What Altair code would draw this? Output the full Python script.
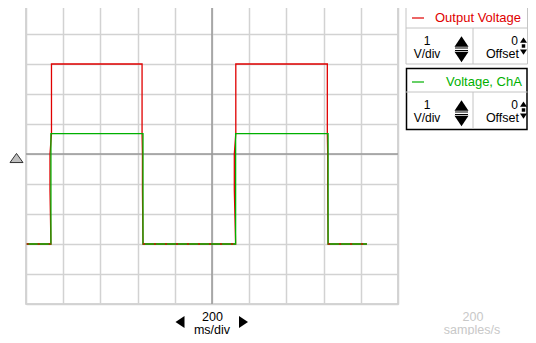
import altair as alt
import pandas as pd

# ---- data (time in ms, voltage in V) ----
green_t = [4, 134, 134, 629, 629, 1127, 1127, 1624, 1624, 1833]
green_v = [-3.0, -3.0, 0.68, 0.68, -3.0, -3.0, 0.68, 0.68, -3.0, -3.0]
red_t = [4, 134, 129, 129, 137, 137, 624, 624, 626, 626, 629,
         1127, 1120, 1120, 1128, 1128, 1620, 1620, 1622, 1622, 1624, 1833]
red_v = [-3.0, -3.0, -1.2, 0.0, 0.68, 3.0, 3.0, 0.68, 0.0, -1.2, -3.0,
         -3.0, -1.2, 0.0, 0.68, 3.0, 3.0, 0.68, 0.0, -1.2, -3.0, -3.0]
# low stretches where the red trace peeks through the green one
low_start = [4, 629, 1624]
low_end = [134, 1127, 1833]
low_v = [-3.0, -3.0, -3.0]
grid_t = [0, 200, 400, 600, 800, 1000, 1200, 1400, 1600, 1800, 2000]
grid_v = [-5, -4, -3, -2, -1, 0, 1, 2, 3, 4, 5]
center_t = [1000]
center_v = [0]

channels = ["Output Voltage", "Voltage, ChA"]
channel_colors = ["#e00000", "#00b000"]
volts_per_div = ["1", "1"]
offsets = ["0", "0"]
timebase = ["200", "ms/div"]
sample_rate = ["200", "samples/s"]

RED, GREEN = channel_colors
OX, OY = 26, 4  # plot origin on the page

green_df = pd.DataFrame({"t": green_t, "v": green_v, "i": range(len(green_t))})
red_df = pd.DataFrame({"t": red_t, "v": red_v, "i": range(len(red_t))})
low_df = pd.DataFrame({"t": low_start, "t2": low_end, "v": low_v})
dummy = pd.DataFrame({"a": [0]})

xscale = alt.Scale(domain=[0, 2000], nice=False, zero=False)
yscale = alt.Scale(domain=[-5, 5], nice=False, zero=False)
grid_kw = dict(grid=True, labels=False, ticks=False, domain=False,
               gridColor="#d2d2d2", gridWidth=1.5, gridOpacity=1)
xaxis = alt.Axis(values=grid_t, **grid_kw)
yaxis = alt.Axis(values=grid_v, **grid_kw)


def X():
    return alt.X("t:Q", scale=xscale, title=None, axis=xaxis)


def Y():
    return alt.Y("v:Q", scale=yscale, title=None, axis=yaxis)


layers = []
layers.append(alt.Chart(pd.DataFrame({"t": center_t})).mark_rule(color="#999999", strokeWidth=1.5)
              .encode(x=X()))
layers.append(alt.Chart(pd.DataFrame({"v": center_v})).mark_rule(color="#999999", strokeWidth=1.5)
              .encode(y=Y()))
layers.append(alt.Chart(red_df).mark_line(color=RED, strokeWidth=1.3)
              .encode(x=X(), y=Y(), order="i:Q"))
layers.append(alt.Chart(green_df).mark_line(color=GREEN, strokeWidth=1.3)
              .encode(x=X(), y=Y(), order="i:Q"))
layers.append(alt.Chart(low_df).mark_rule(color=RED, strokeWidth=1.3, strokeDash=[2, 9], opacity=0.8)
              .encode(x=X(), x2="t2:Q", y=Y()))


def P(px, py):
    return dict(x=alt.value(px - OX), y=alt.value(py - OY))


def text(s, px, py, color="black", align="center", size=13):
    return alt.Chart(dummy).mark_text(text=s, color=color, align=align, baseline="middle",
                                      font="Liberation Sans", fontSize=size).encode(**P(px, py))


def shape(path, px, py, size, color="black"):
    return alt.Chart(dummy).mark_point(shape=path, filled=True, color=color, opacity=1,
                                       size=size, strokeWidth=0).encode(**P(px, py))


def hline(x1, x2, py, color, w=1):
    return alt.Chart(dummy).mark_rule(color=color, strokeWidth=w).encode(
        x=alt.value(x1 - OX), x2=alt.value(x2 - OX), y=alt.value(py - OY))


def vline(px, y1, y2, color, w=1):
    return alt.Chart(dummy).mark_rule(color=color, strokeWidth=w).encode(
        x=alt.value(px - OX), y=alt.value(y1 - OY), y2=alt.value(y2 - OY))


def box(x1, x2, y1, y2, color, w=1):
    return alt.Chart(dummy).mark_rect(fillOpacity=0, stroke=color, strokeWidth=w).encode(
        x=alt.value(x1 - OX), x2=alt.value(x2 - OX), y=alt.value(y1 - OY), y2=alt.value(y2 - OY))


UP = "M-1,0.75L1,0.75L0,-0.75Z"
DOWN = "M-1,-0.75L1,-0.75L0,0.75Z"
LEFT = "M0.75,-1L0.75,1L-0.75,0Z"
RIGHT = "M-0.75,-1L-0.75,1L0.75,0Z"
SQUARE = "M-1,-1L1,-1L1,1L-1,1Z"

# zero-level marker
layers.append(alt.Chart(dummy).mark_point(shape="M-1,0.7L1,0.7L0,-0.7Z", filled=True, fill="#c0c0c0",
                                           stroke="#333333", strokeWidth=1, opacity=1, size=169)
              .encode(**P(16.5, 158)))

# channel panels
for k, (name, col, vdiv, off) in enumerate(zip(channels, channel_colors, volts_per_div, offsets)):
    dy = 64 * k
    if k == 0:
        layers.append(box(406, 527.5, 4, 64, "#c4c4c4"))
    else:
        layers.append(box(406.5, 527, 68.5, 129.5, "black", 1.5))
    layers.append(hline(406, 527.5, 28 + dy, "#c4c4c4"))
    layers.append(vline(473, 28 + dy, 64 + dy if k == 0 else 129, "#c4c4c4"))
    layers.append(hline(412, 424, 18 + dy, col, 1.2))
    layers.append(text(name, 435 if k == 0 else 446, 18 + dy, col, "left"))
    layers.append(text(vdiv, 427, 40.5 + dy, size=12))
    layers.append(text("V/div", 427, 53.5 + dy, size=12))
    layers.append(text(off, 518, 40.5 + dy, align="right", size=12))
    layers.append(text("Offset", 519, 53.5 + dy, align="right", size=12.5))
    layers.append(shape(UP, 461.5, 41.5 + dy, 196))
    layers.append(hline(455, 468, 48 + dy, "black", 1))
    layers.append(hline(455, 468, 50.5 + dy, "black", 1))
    layers.append(shape(DOWN, 461.5, 57 + dy, 196))
    layers.append(shape(UP, 523.5, 40 + dy, 49))
    layers.append(shape(SQUARE, 523.5, 46 + dy, 12))
    layers.append(shape(DOWN, 523.5, 52 + dy, 49))

# time base controls
layers.append(shape(LEFT, 180, 322, 144))
layers.append(shape(RIGHT, 243.5, 322, 144))
layers.append(text(timebase[0], 212.5, 317, size=12.5))
layers.append(text(timebase[1], 212, 329.5, size=12.5))
layers.append(text(sample_rate[0], 473, 317, color="#c8c8c8", size=12.5))
layers.append(text(sample_rate[1], 472, 329.5, color="#c8c8c8", size=12.5))

chart = alt.layer(*layers).properties(
    width=372, height=300, autosize="none",
    padding={"left": 18, "top": -4, "right": 130, "bottom": 31},
).configure_view(stroke="#c8c8c8", strokeWidth=1.5)

chart.save("out.html", embed_options={"renderer": "svg", "actions": False})
